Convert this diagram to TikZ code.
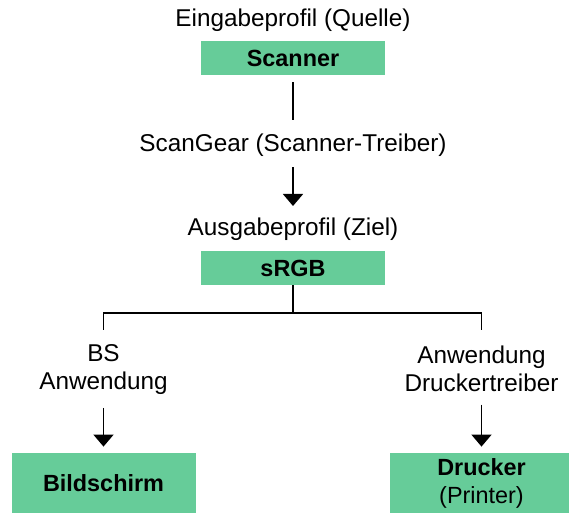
\documentclass[tikz,border=0pt]{standalone}
\usepackage{fontspec}
\setmainfont{Liberation Sans}
\usepackage{tikz}
\usetikzlibrary{arrows.meta}
\definecolor{mint}{HTML}{66CC99}

\begin{document}
\begin{tikzpicture}[x=0.5pt,y=-0.5pt,
  lbl/.style={inner sep=0pt,font=\fontsize{12.15}{14}\selectfont,align=center},
  box/.style={fill=mint,inner sep=0pt,minimum width=92pt,font=\fontsize{11.7}{14}\selectfont\bfseries,align=center},
  link/.style={line width=0.8pt},
  arr/.style={line width=0.8pt,-{Triangle[length=6pt,width=10pt]}}]
\useasboundingbox (0,0) rectangle (569,513);
% source profile
\node[lbl,anchor=base] (inprof) at (293,27) {Eingabeprofil (Quelle)};
\node[box,minimum height=17pt] (scanner) at (293,58) {Scanner};
\node[lbl,anchor=base] (gear) at (293,152) {ScanGear (Scanner-Treiber)};
% output profile
\node[lbl,anchor=base] (outprof) at (293,236) {Ausgabeprofil (Ziel)};
\node[box,minimum height=17pt] (srgb) at (293,268) {sRGB};
\coordinate (fork) at (293,313);
% the two branches
\node[lbl,anchor=north] (osapp) at (103.5,344) {BS\\Anwendung};
\node[lbl,anchor=north] (drvapp) at (481.5,345) {Anwendung\\Druckertreiber};
\node[box,minimum height=30pt] (screen) at (103.5,483) {Bildschirm};
\node[box,minimum height=30pt] (printer) at (481.5,483) {Drucker\\{\mdseries (Printer)}};
\draw[link,shorten <=3.5pt,shorten >=7pt] (scanner.south) -- (gear.north);
\draw[arr,shorten <=5pt,shorten >=6pt] (gear.south) -- (outprof.north);
\draw[link] (srgb.south) -- (fork);
\draw[link,shorten >=7pt] (fork) -| (osapp.north);
\draw[link,shorten >=7.5pt] (fork) -| (drvapp.north);
\draw[arr,shorten <=6.5pt,shorten >=3pt] (osapp.south) -- (screen.north);
\draw[arr,shorten <=6.5pt,shorten >=3pt] (drvapp.south) -- (printer.north);
\end{tikzpicture}
\end{document}
